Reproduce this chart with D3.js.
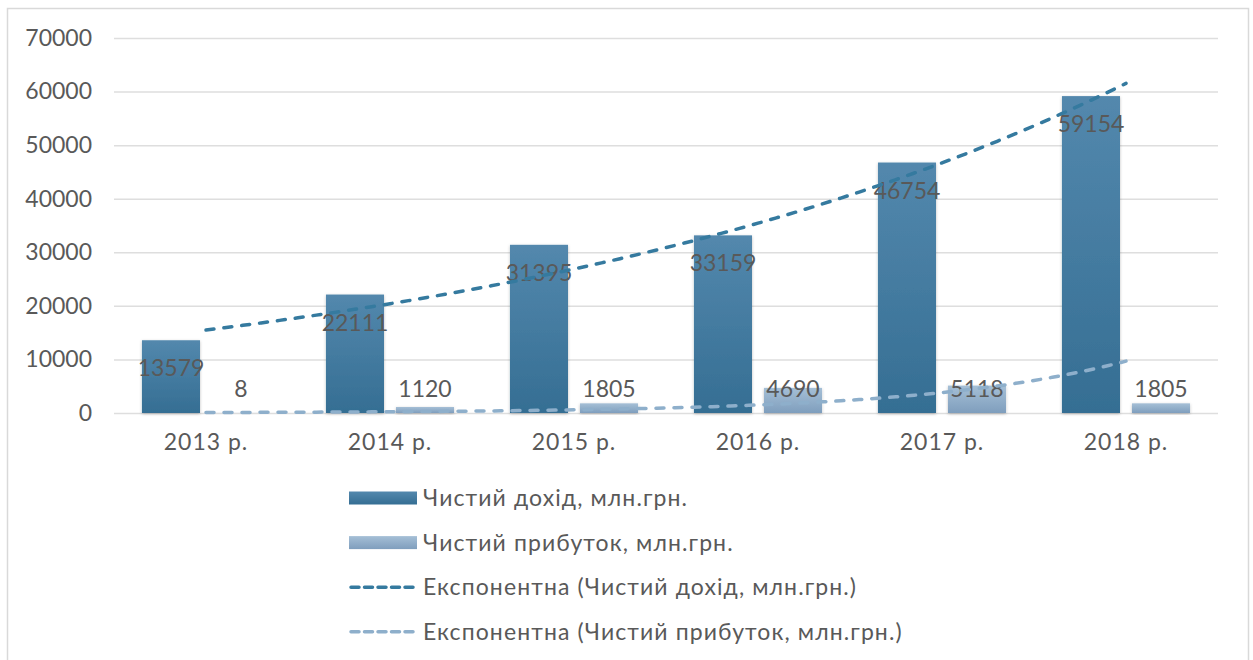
<!DOCTYPE html>
<html>
<head>
<meta charset="utf-8">
<script src="https://cdn.jsdelivr.net/npm/d3@7"></script>
<style>
  body { margin: 0; background: #fff; }
  svg text { font-family: Lato, "Noto Sans", sans-serif; fill: #595959; }
</style>
</head>
<body>
<div id="chart"></div>
<script>
const years = ['2013 р.', '2014 р.', '2015 р.', '2016 р.', '2017 р.', '2018 р.'];
const revenue = [13579, 22111, 31395, 33159, 46754, 59154];
const profit = [8, 1120, 1805, 4690, 5118, 1805];
const yTicks = [0, 10000, 20000, 30000, 40000, 50000, 60000, 70000];
const seriesNames = ['Чистий дохід, млн.грн.', 'Чистий прибуток, млн.грн.'];
const trendNames = ['Експонентна (Чистий дохід, млн.грн.)', 'Експонентна (Чистий прибуток, млн.грн.)'];

const width = 1253, height = 660;
const fontSize = 23;
const svg = d3.select('#chart').append('svg')
  .attr('width', width).attr('height', height);

const defs = svg.append('defs');
function grad(id, top, bottom) {
  const g = defs.append('linearGradient').attr('id', id)
    .attr('x1', 0).attr('y1', 0).attr('x2', 0).attr('y2', 1);
  g.append('stop').attr('offset', '0%').attr('stop-color', top);
  g.append('stop').attr('offset', '100%').attr('stop-color', bottom);
}
grad('gDark', '#5388ad', '#356e93');
grad('gLight', '#a5bfd6', '#7f9ebd');
const shadow = defs.append('filter').attr('id', 'shadow')
  .attr('x', '-20%').attr('y', '-20%').attr('width', '140%').attr('height', '140%');
shadow.append('feDropShadow').attr('dx', 0).attr('dy', 1).attr('stdDeviation', 1.5)
  .attr('flood-color', '#000').attr('flood-opacity', 0.25);

// outer border
svg.append('rect').attr('x', 7.5).attr('y', 8.5).attr('width', 1241).attr('height', 670)
  .attr('fill', 'none').attr('stroke', '#d9d9d9').attr('stroke-width', 1.5);

const plot = { left: 114, right: 1218, top: 38, bottom: 413 };

const x = d3.scaleBand().domain(years).range([plot.left, plot.right]).padding(0);
const inner = d3.scaleBand().domain([0, 1])
  .range([x.bandwidth() * 0.152, x.bandwidth() * 0.848]).paddingInner(0.1714);
const y = d3.scaleLinear().domain([0, 70000]).range([plot.bottom, plot.top]);

// gridlines
svg.append('g')
  .attr('transform', `translate(${plot.left},0)`)
  .call(d3.axisLeft(y).tickValues(yTicks).tickFormat('').tickSize(-(plot.right - plot.left)))
  .call(g => g.select('.domain').remove())
  .call(g => g.selectAll('line').attr('stroke', '#dedede').attr('stroke-width', 1.5));

// y labels
svg.append('g')
  .attr('transform', `translate(${plot.left},0)`)
  .call(d3.axisLeft(y).tickValues(yTicks).tickSize(0).tickPadding(22).tickFormat(d3.format('d')))
  .call(g => g.select('.domain').remove())
  .call(g => g.selectAll('text').attr('font-size', fontSize).style('font-family', 'Lato, sans-serif').attr('fill', '#595959'));

// x labels
svg.append('g')
  .attr('transform', `translate(0,${plot.bottom})`)
  .call(d3.axisBottom(x).tickSize(0).tickPadding(21))
  .call(g => g.select('.domain').remove())
  .call(g => g.selectAll('text').attr('font-size', fontSize).style('letter-spacing', '1px')
    .style('font-family', 'Lato, sans-serif').attr('fill', '#595959'));

const rows = years.map((yr, i) => ({ yr, vals: [revenue[i], profit[i]] }));
const fills = ['url(#gDark)', 'url(#gLight)'];

const groups = svg.append('g').selectAll('g').data(rows).join('g')
  .attr('transform', d => `translate(${x(d.yr)},0)`);

groups.selectAll('rect').data(d => d.vals.map((v, k) => ({ v, k }))).join('rect')
  .attr('x', d => inner(d.k))
  .attr('width', inner.bandwidth())
  .attr('y', d => y(d.v))
  .attr('height', d => y(0) - y(d.v))
  .attr('fill', d => fills[d.k])
  .attr('filter', 'url(#shadow)');

// exponential trendlines fitted from the data
function expFit(vals) {
  const xs = vals.map((_, i) => i + 1);
  const ls = vals.map(v => Math.log(v));
  const mx = d3.mean(xs), ml = d3.mean(ls);
  const b = d3.sum(xs, (xi, i) => (xi - mx) * (ls[i] - ml)) / d3.sum(xs, xi => (xi - mx) ** 2);
  const a = ml - b * mx;
  return t => Math.exp(a + b * t);
}
const xt = d3.scaleLinear().domain([1, years.length])
  .range([x(years[0]) + x.bandwidth() / 2, x(years[years.length - 1]) + x.bandwidth() / 2]);
const trendColors = ['#357a9f', '#8eafcb'];
[revenue, profit].forEach((vals, k) => {
  const f = expFit(vals);
  const pts = d3.range(1, years.length + 0.001, 0.05).map(t => [xt(t), y(f(t))]);
  svg.append('path')
    .attr('d', d3.line()(pts))
    .attr('fill', 'none')
    .attr('stroke', trendColors[k])
    .attr('stroke-width', 3.5)
    .attr('stroke-dasharray', '8,10')
    .attr('stroke-linecap', 'round');
});

// data labels
groups.append('text')
  .attr('x', inner(0) + inner.bandwidth() / 2)
  .attr('y', d => y(d.vals[0]) + 28)
  .attr('dy', '0.35em')
  .attr('text-anchor', 'middle')
  .attr('font-size', fontSize)
  .text(d => d.vals[0]);
groups.append('text')
  .attr('x', inner(1) + inner.bandwidth() / 2)
  .attr('y', y(0) - 24)
  .attr('dy', '0.35em')
  .attr('text-anchor', 'middle')
  .attr('font-size', fontSize)
  .text(d => d.vals[1]);

// legend
const legend = svg.append('g').attr('transform', 'translate(349,498)');
const items = [
  { name: seriesNames[0], type: 'bar', fill: 'url(#gDark)' },
  { name: seriesNames[1], type: 'bar', fill: 'url(#gLight)' },
  { name: trendNames[0], type: 'line', stroke: trendColors[0] },
  { name: trendNames[1], type: 'line', stroke: trendColors[1] }
];
const li = legend.selectAll('g').data(items).join('g')
  .attr('transform', (d, i) => `translate(0,${i * 44.6})`);
li.filter(d => d.type === 'bar').append('rect')
  .attr('x', 0).attr('y', -6.5).attr('width', 68).attr('height', 13)
  .attr('fill', d => d.fill);
li.filter(d => d.type === 'line').append('line')
  .attr('x1', 2).attr('x2', 67).attr('y1', 0).attr('y2', 0)
  .attr('stroke', d => d.stroke).attr('stroke-width', 3.5)
  .attr('stroke-dasharray', '8,5.5').attr('stroke-linecap', 'round');
li.append('text')
  .attr('x', 74).attr('dy', '0.35em')
  .attr('font-size', fontSize)
  .style('letter-spacing', '1.1px')
  .text(d => d.name);
</script>
</body>
</html>
